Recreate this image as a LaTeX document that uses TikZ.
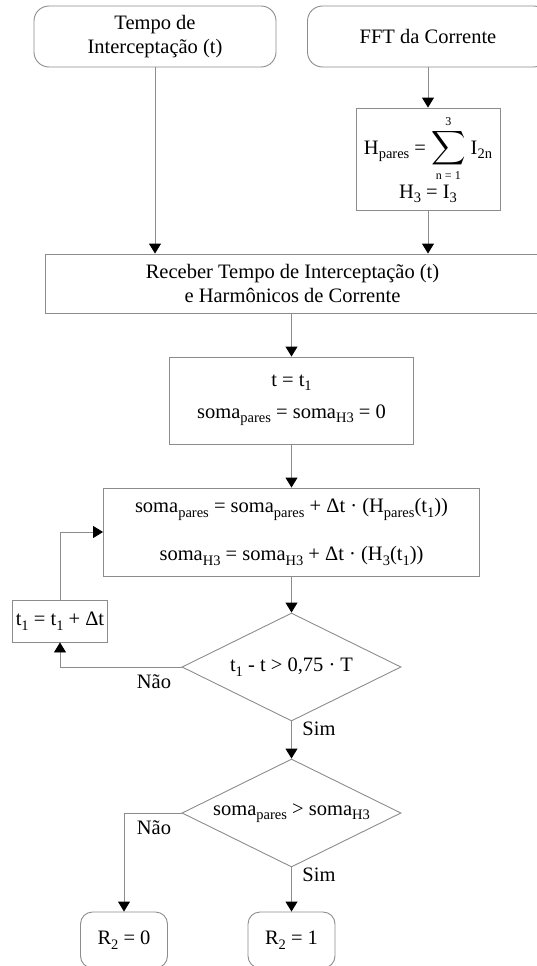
\documentclass[tikz,border=0pt]{standalone}
\usepackage{amsmath}
\usepackage{graphicx}
\usepackage{fontspec}
\setmainfont{Liberation Serif}
\usepackage{tikz}
\usetikzlibrary{arrows.meta,positioning,shapes.geometric}
\newcommand{\sub}[1]{\raisebox{-4.5pt}{\fontsize{14.5}{14.5}\selectfont #1}}
\newcommand{\limtxt}[1]{\text{\fontsize{12}{12}\selectfont #1}}
\newcommand{\bigsum}{\mathop{\scalebox{1.15}{$\displaystyle\sum$}}}

\begin{document}
\begin{tikzpicture}[
    x=1pt, y=-1pt,
    font=\fontsize{20.5}{24}\selectfont,
    box/.style={draw=black!45, line width=0.9pt, align=center, inner sep=0pt},
    term/.style={box, rounded corners=15pt},
    decision/.style={box, diamond, aspect=2, minimum width=219pt, minimum height=108pt},
    label/.style={inner sep=0pt},
    arrow/.style={draw=black!45, line width=0.9pt, -{Triangle[length=10pt, width=12pt, color=black]}}
]
\useasboundingbox (0,0) rectangle (537,966);

\node[term, minimum width=242pt, minimum height=61pt] (tempo) at (155,36.5) {Tempo de\\Interceptação (t)};
\node[term, minimum width=241pt, minimum height=61pt] (fft) at (428,36.5) {FFT da Corrente};
\node[box, minimum width=144pt, minimum height=102pt] (harm) at (428,159)
    {H\sub{pares} = $\bigsum\limits_{\limtxt{n = 1}}^{\limtxt{3}}$ I\sub{2n}\\[2pt] H\sub{3} = I\sub{3}};
\node[box, minimum width=495pt, minimum height=59pt] (receber) at (292.5,283.5)
    {Receber Tempo de Interceptação (t)\\e Harmônicos de Corrente};
\node[box, minimum width=244pt, minimum height=87pt] (init) at (291.5,400.5)
    {t = t\sub{1}\\[8pt]soma\sub{pares} = soma\sub{H3} = 0};
\node[box, minimum width=376pt, minimum height=88pt] (acum) at (291.5,532)
    {soma\sub{pares} = soma\sub{pares} + Δt · (H\sub{pares}(t\sub{1}))\\[24pt]soma\sub{H3} = soma\sub{H3} + Δt · (H\sub{3}(t\sub{1}))};
\node[box, minimum width=94.5pt, minimum height=42pt] (incr) at (60,621) {t\sub{1} = t\sub{1} + Δt};
\node[decision] (tempo_ok) at (291.5,667) {t\sub{1} - t > 0,75 · T};
\node[decision] (compara) at (291.5,813) {soma\sub{pares} > soma\sub{H3}};
\node[term, rounded corners=12pt, minimum width=87pt, minimum height=56pt] (r_zero) at (124,940) {R\sub{2} = 0};
\node[term, rounded corners=12pt, minimum width=87pt, minimum height=56pt] (r_um) at (291.5,940) {R\sub{2} = 1};

% rotulos das saidas
\node[label] (nao_a) at (154,682) {Não};
\node[label] (sim_a) at (319,729) {Sim};
\node[label] (nao_b) at (154,828) {Não};
\node[label] (sim_b) at (319,875) {Sim};

\draw[arrow] (tempo) -- (tempo |- receber.north);
\draw[arrow] (fft) -- (harm);
\draw[arrow] (harm) -- (harm |- receber.north);
\draw[arrow] (init |- receber.south) -- (init);
\draw[arrow] (init) -- (acum);
\draw[arrow] (acum) -- (tempo_ok);
\draw[arrow] (tempo_ok.west) -| (incr.south);
\draw[arrow] (incr.north) |- (acum.west);
\draw[arrow] (tempo_ok) -- (compara);
\draw[arrow] (compara.west) -| (r_zero.north);
\draw[arrow] (compara) -- (r_um);
\end{tikzpicture}
\end{document}
